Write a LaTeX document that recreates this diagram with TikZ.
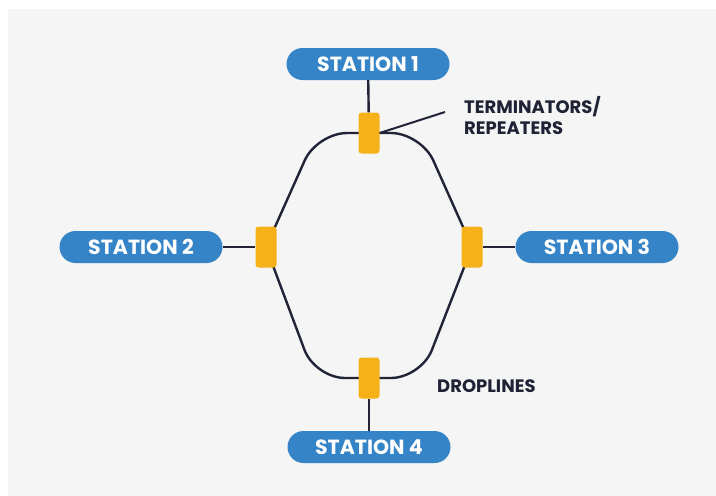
\documentclass[tikz,border=0pt]{standalone}
\usepackage{fontspec}
\setmainfont{Poppins}
\definecolor{panelgray}{RGB}{245,245,246}
\definecolor{stationblue}{RGB}{54,132,200}
\definecolor{repeaterorange}{RGB}{247,177,24}
\definecolor{wirenavy}{RGB}{32,36,54}
\definecolor{labelnavy}{RGB}{30,34,52}
\begin{document}
\begin{tikzpicture}[x=1pt,y=-1pt,
  station/.style={rectangle, rounded corners=16pt, fill=stationblue, text=white,
    font=\bfseries\fontsize{20.5}{20.5}\selectfont, minimum width=163pt,
    minimum height=32pt, inner sep=0pt},
  repeater/.style={rectangle, rounded corners=3pt, fill=repeaterorange,
    minimum width=21pt, minimum height=41pt, inner sep=0pt},
  wire/.style={draw=wirenavy, line width=2.4pt},
  callout/.style={draw=wirenavy, line width=2pt},
  tag/.style={font=\bfseries\fontsize{18}{21}\selectfont, text=labelnavy,
    align=left, anchor=west, inner sep=0pt}]
  % canvas and panel
  \useasboundingbox (0,0) rectangle (716,496);
  \fill[white] (0,0) rectangle (716,496);
  \fill[panelgray] (8,9) rectangle (716,496);

  % repeater positions on the ring
  \coordinate (p1) at (369,133);
  \coordinate (p2) at (266,247);
  \coordinate (p3) at (472,247);
  \coordinate (p4) at (369,378);
  % ring corners
  \coordinate (c1) at (317,133);
  \coordinate (c2) at (421,133);
  \coordinate (c3) at (421,378);
  \coordinate (c4) at (315,378);

  % the ring bus
  \draw[wire, rounded corners=30pt] (p2) -- (c1) -- (c2) -- (p3);
  \draw[wire, rounded corners=30pt] (p2) -- (c4) -- (c3) -- (p3);

  % terminators / repeaters
  \node[repeater] (r1) at (p1) {};
  \node[repeater] (r2) at (p2) {};
  \node[repeater] (r3) at (p3) {};
  \node[repeater] (r4) at (p4) {};

  % stations
  \node[station] (s1) at (368,64)  {STATION 1};
  \node[station] (s2) at (141,247) {STATION 2};
  \node[station] (s3) at (597,247) {STATION 3};
  \node[station] (s4) at (369,447) {STATION 4};

  % droplines
  \draw[wire] (s1) -- (r1);
  \draw[wire] (s2) -- (r2);
  \draw[wire] (s3) -- (r3);
  \draw[wire] (s4) -- (r4);

  % labels
  \node[tag] (tr) at (464,116) {TERMINATORS/\\REPEATERS};
  \coordinate (tip) at (445,112);
  \draw[callout] (r1.east) -- (tip);
  \node[tag] (dl) at (437,386) {DROPLINES};
\end{tikzpicture}
\end{document}
